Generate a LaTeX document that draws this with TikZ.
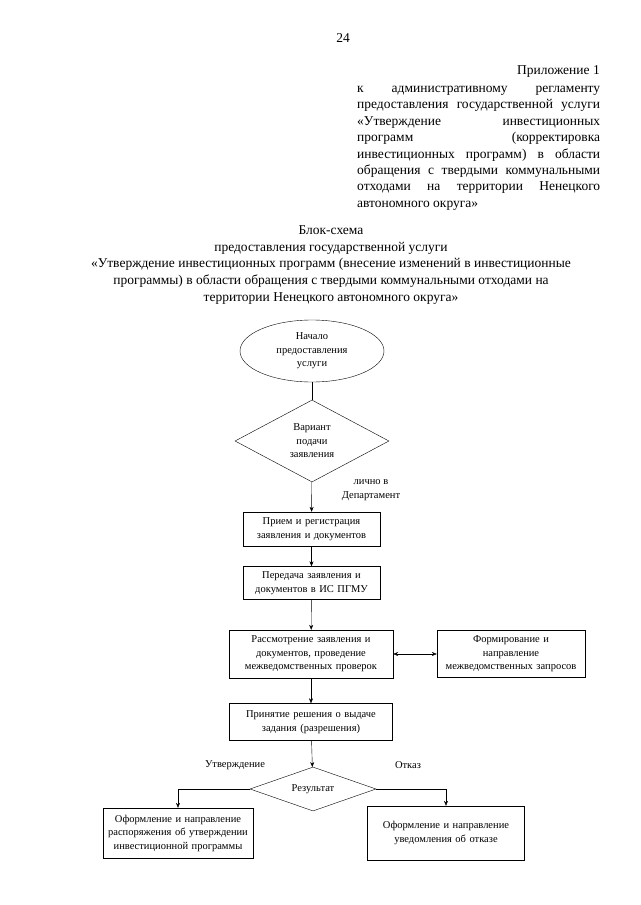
\documentclass[tikz,border=0pt]{standalone}
\usepackage{fontspec}
\setmainfont{Liberation Serif}
\usepackage{tikz}
\usetikzlibrary{arrows.meta,shapes.geometric}
\newcommand{\headfont}{\fontsize{13.5}{16.8}\selectfont}
\newcommand{\regfont}{\fontsize{13.5}{16.4}\selectfont}
\newcommand{\blockfont}{\fontsize{10.5}{13.5}\selectfont}
\newcommand{\jline}[1]{\makebox[243pt][s]{#1}}

\begin{document}
\begin{tikzpicture}[
      x=1pt, y=-1pt, >={Stealth[length=5pt,width=4pt]},
      every node/.style={inner sep=0pt},
      head/.style={font=\headfont, align=center},
      blok/.style={draw, thin, align=center, inner sep=2pt, font=\blockfont},
      start/.style={ellipse, draw, thin, align=center, font=\blockfont,
                    minimum width=144pt, minimum height=62pt},
      choice/.style={diamond, draw, thin, align=center, font=\blockfont,
                     aspect=2},
      arr/.style={->, thin},
      lbl/.style={font=\blockfont, align=center}
    ]
    \useasboundingbox (0,0) rectangle (640,905);
    % page header
    \node[head] (page) at (343,38) {24};
    \node[head, anchor=east] (appx) at (600,71) {Приложение 1};
    \node[font=\regfont, align=left, anchor=north west] (reg) at (357,86)
      {\jline{к административному регламенту}\\
       \jline{предоставления государственной услуги}\\
       \jline{«Утверждение инвестиционных}\\
       \jline{программ (корректировка}\\
       \jline{инвестиционных программ) в области}\\
       \jline{обращения с твердыми коммунальными}\\
       \jline{отходами на территории Ненецкого}\\
       автономного округа»};
    \node[head] (title) at (331,265)
      {Блок-схема\\
       предоставления государственной услуги\\
       «Утверждение инвестиционных программ (внесение изменений в инвестиционные\\
       программы) в области обращения с твердыми коммунальными отходами на\\
       территории Ненецкого автономного округа»};
    % scheme
    \node[start] (beg) at (312,351) {Начало\\предоставления\\услуги};
    \node[choice, minimum width=154pt, minimum height=82pt] (way) at (312,441)
      {Вариант\\подачи\\заявления};
    \node[blok, text width=133pt, minimum height=34pt] (recv) at (311.5,529)
      {Прием и регистрация\\заявления и документов};
    \node[blok, text width=133pt, minimum height=33pt] (send) at (311.5,583)
      {Передача заявления и\\документов в ИС ПГМУ};
    \node[blok, text width=160pt, minimum height=48pt] (check) at (311,654)
      {Рассмотрение заявления и\\документов, проведение\\межведомственных проверок};
    \node[blok, text width=144pt, minimum height=47pt] (req) at (511,654)
      {Формирование и\\направление\\межведомственных запросов};
    \node[blok, text width=159pt, minimum height=37pt] (dec) at (311,722)
      {Принятие решения о выдаче\\задания (разрешения)};
    \node[choice, minimum width=126pt, minimum height=44pt] (res) at (313,789)
      {Результат};
    \node[blok, text width=146pt, minimum height=50pt] (ok) at (178,833)
      {Оформление и направление\\распоряжения об утверждении\\инвестиционной программы};
    \node[blok, text width=153pt, minimum height=54pt] (no) at (446,833)
      {Оформление и направление\\уведомления об отказе};
    \node[lbl] (pers) at (371,490) {лично в\\Департамент};
    \node[lbl] (yes) at (235,765) {Утверждение};
    \node[lbl] (ref) at (408,765) {Отказ};
    % connectors
    \draw[thin] (beg) -- (way);
    \draw[arr] (way) -- (recv);
    \draw[arr] (recv) -- (send);
    \draw[arr] (send) -- (check);
    \draw[<->, thin] (check) -- (req);
    \draw[arr] (check) -- (dec);
    \draw[arr] (dec) -- (res);
    \draw[arr] (res.west) -| (ok.north);
    \draw[arr] (res.east) -| (no.north);
  \end{tikzpicture}
\end{document}
